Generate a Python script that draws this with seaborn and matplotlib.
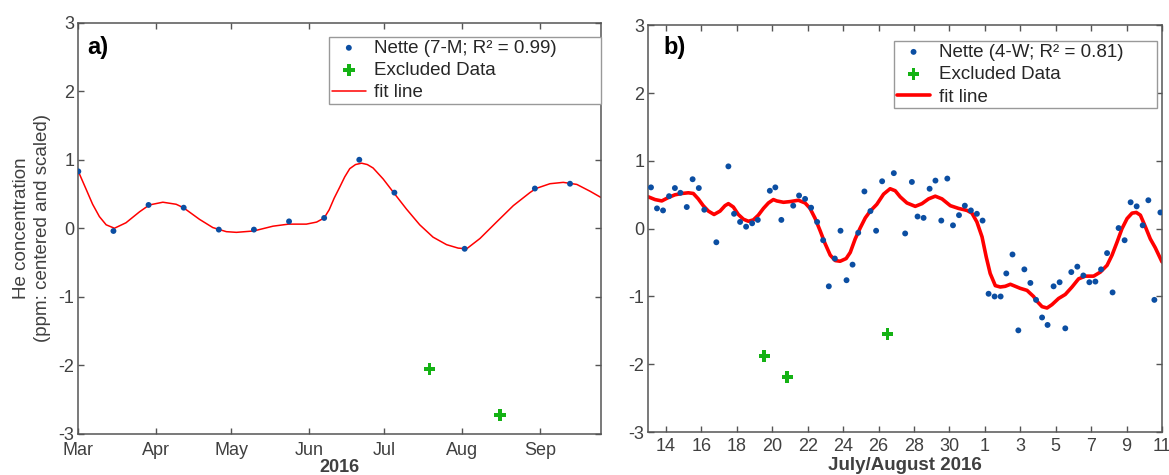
import pandas as pd
import matplotlib
matplotlib.use('Agg')
import matplotlib.pyplot as plt
import seaborn as sns

# ---- panel a) : 7-month record, days counted from 1 March 2016 ----
a_days = [0, 14, 28, 42, 56, 70, 84, 98, 112, 126, 154, 182, 196]
a_vals = [0.83, -0.04, 0.34, 0.30, -0.02, -0.02, 0.10, 0.15, 1.00, 0.52, -0.30, 0.58, 0.65]
a_excl_days = [140, 168]
a_excl_vals = [-2.06, -2.73]
a_fit_days = [0, 3.1, 5.7, 8.4, 11.1, 14.4, 19.0, 24.4, 28.3, 33.7, 39.0, 41.9, 48.3, 53.6,
              59.0, 63.0, 69.9, 77.6, 83.8, 90.9, 95.0, 98.0, 100.0, 102.0, 104.2, 106.2,
              108.2, 110.5, 112.9, 115.2, 117.5, 121.5, 125.7, 130.8, 136.1, 141.4, 146.8,
              151.4, 154.8, 160.1, 166.7, 173.4, 180.0, 182.4, 188.0, 193.3, 198.7, 204.0, 208.3]
a_fit_vals = [0.83, 0.57, 0.35, 0.17, 0.05, 0.00, 0.08, 0.24, 0.34, 0.38, 0.35, 0.30, 0.13, 0.01,
              -0.05, -0.06, -0.04, 0.03, 0.06, 0.06, 0.09, 0.15, 0.27, 0.44, 0.60, 0.75,
              0.87, 0.93, 0.95, 0.93, 0.88, 0.72, 0.52, 0.28, 0.05, -0.13, -0.24,
              -0.29, -0.30, -0.15, 0.09, 0.33, 0.52, 0.58, 0.65, 0.67, 0.64, 0.54, 0.45]
a_ticks = ['2016-03-01', '2016-04-01', '2016-05-01', '2016-06-01', '2016-07-01', '2016-08-01', '2016-09-01']
a_tick_labels = ['Mar', 'Apr', 'May', 'Jun', 'Jul', 'Aug', 'Sep']

# ---- panel b) : 4-week record, day of July (32 = 1 August) ----
b_days = [13.15, 13.49, 13.83, 14.17, 14.50, 14.81, 15.17, 15.50, 15.85, 16.16,
          16.84, 17.52, 17.84, 18.18, 18.52, 18.86, 19.18, 19.86, 20.17, 20.51,
          21.18, 21.51, 21.85, 22.19, 22.53, 22.87, 23.19, 23.53, 23.85, 24.19,
          24.53, 24.85, 25.20, 25.54, 25.86, 26.20, 26.86, 27.50, 27.88, 28.20,
          28.54, 28.88, 29.21, 29.54, 29.88, 30.20, 30.54, 30.87, 31.21, 31.55,
          31.87, 32.21, 32.55, 32.89, 33.21, 33.56, 33.89, 34.23, 34.57, 34.89,
          35.23, 35.54, 35.88, 36.22, 36.54, 36.88, 37.22, 37.56, 37.90, 38.24,
          38.56, 38.90, 39.21, 39.55, 39.89, 40.23, 40.57, 40.91, 41.23, 41.57, 41.91]
b_vals = [0.61, 0.30, 0.27, 0.48, 0.60, 0.53, 0.32, 0.73, 0.60, 0.28,
          -0.20, 0.92, 0.22, 0.10, 0.03, 0.08, 0.13, 0.56, 0.61, 0.13,
          0.34, 0.49, 0.44, 0.31, 0.10, -0.17, -0.85, -0.44, -0.03, -0.76,
          -0.53, -0.06, 0.55, 0.26, -0.03, 0.70, 0.82, -0.07, 0.69, 0.18,
          0.16, 0.59, 0.71, 0.12, 0.74, 0.05, 0.20, 0.34, 0.27, 0.22,
          0.12, -0.96, -1.00, -1.00, -0.66, -0.38, -1.50, -0.60, -0.80, -1.05,
          -1.31, -1.42, -0.85, -0.79, -1.47, -0.64, -0.56, -0.69, -0.79, -0.78,
          -0.60, -0.36, -0.94, 0.01, -0.17, 0.39, 0.33, 0.05, 0.42, -1.05, 0.24]
b_excl_days = [19.55, 20.85, 26.50]
b_excl_vals = [-1.88, -2.19, -1.55]
b_fit_days = [13.0, 13.38, 13.76, 14.13, 14.5, 14.89, 15.26, 15.54, 15.82, 16.1, 16.39, 16.71,
              17.05, 17.33, 17.52, 17.8, 18.08, 18.37, 18.65, 18.93, 19.21, 19.5, 19.78, 20.06,
              20.25, 20.63, 21.0, 21.47, 21.85, 22.13, 22.42, 22.7, 22.98, 23.27, 23.55, 23.83,
              24.17, 24.4, 24.68, 24.96, 25.25, 25.53, 25.9, 26.28, 26.65, 26.94, 27.22, 27.6,
              28.07, 28.45, 28.82, 29.2, 29.58, 30.05, 30.51, 30.99, 31.27, 31.55, 31.84, 32.08,
              32.3, 32.59, 32.87, 33.15, 33.44, 33.72, 34.0, 34.38, 34.75, 34.94, 35.23, 35.51,
              35.79, 36.16, 36.54, 36.92, 37.29, 37.67, 38.14, 38.52, 38.9, 39.18, 39.46, 39.74,
              40.03, 40.31, 40.55, 40.78, 41.06, 41.34, 41.62, 42.0]
b_fit_vals = [0.47, 0.43, 0.41, 0.46, 0.50, 0.52, 0.53, 0.52, 0.44, 0.34, 0.26, 0.21,
              0.26, 0.34, 0.37, 0.32, 0.21, 0.14, 0.11, 0.13, 0.20, 0.30, 0.38, 0.43,
              0.41, 0.39, 0.40, 0.42, 0.38, 0.30, 0.15, -0.03, -0.22, -0.39, -0.47, -0.48,
              -0.44, -0.35, -0.15, 0.01, 0.16, 0.26, 0.36, 0.51, 0.59, 0.56, 0.47, 0.38,
              0.33, 0.37, 0.44, 0.48, 0.44, 0.34, 0.30, 0.27, 0.23, 0.10, -0.12, -0.42,
              -0.66, -0.84, -0.86, -0.85, -0.82, -0.85, -0.88, -0.91, -1.00, -1.07, -1.15, -1.17,
              -1.12, -1.03, -0.97, -0.86, -0.74, -0.70, -0.70, -0.64, -0.54, -0.39, -0.20, 0.00,
              0.15, 0.23, 0.24, 0.20, 0.03, -0.15, -0.28, -0.49]
b_ticks = ['2016-07-14', '2016-07-16', '2016-07-18', '2016-07-20', '2016-07-22', '2016-07-24',
           '2016-07-26', '2016-07-28', '2016-07-30', '2016-08-01', '2016-08-03', '2016-08-05',
           '2016-08-07', '2016-08-09', '2016-08-11']
b_tick_labels = ['14', '16', '18', '20', '22', '24', '26', '28', '30', '1', '3', '5', '7', '9', '11']

y_ticks = [-3, -2, -1, 0, 1, 2, 3]

start_a = pd.Timestamp('2016-03-01')
start_b = pd.Timestamp('2016-07-01')


def from_march(days):
    return start_a + pd.to_timedelta(days, unit='D')


def from_july(days):
    # day-of-July numbers: 13.0 = 13 July 00:00
    return start_b + pd.to_timedelta([d - 1 for d in days], unit='D')


sns.set_theme(style='white')
grey = '#404040'
plt.rcParams.update({
    'font.family': ['Liberation Sans', 'DejaVu Sans'],
    'font.size': 13,
    'axes.unicode_minus': False,
    'xtick.direction': 'in', 'ytick.direction': 'in',
    'xtick.top': True, 'ytick.right': True,
    'xtick.bottom': True, 'ytick.left': True,
    'xtick.major.size': 4, 'ytick.major.size': 4,
    'xtick.major.width': 1.0, 'ytick.major.width': 1.0,
    'xtick.color': '#555555', 'ytick.color': '#555555',
    'xtick.labelcolor': grey, 'ytick.labelcolor': grey,
    'xtick.labelsize': 13, 'ytick.labelsize': 13,
    'xtick.major.pad': 4, 'ytick.major.pad': 3,
    'axes.edgecolor': '#555555', 'axes.linewidth': 1.1,
    'axes.labelcolor': grey,
})

blue = '#0b4ea2'
green = '#14b214'
leg_style = dict(loc='upper left', mode='expand', borderaxespad=0, fontsize=13.5,
                 frameon=True, fancybox=False, edgecolor='#999999', framealpha=1,
                 handlelength=1.8, handletextpad=0.45, labelspacing=0.28, borderpad=0.15)

fig = plt.figure(figsize=(11.69, 4.75), dpi=100)
ax_a = fig.add_axes([0.067, 0.087, 0.447, 0.865])
ax_b = fig.add_axes([0.5546, 0.0905, 0.4394, 0.856])

# a) monthly data
sns.scatterplot(x=from_march(a_days), y=a_vals, ax=ax_a, color=blue, s=18, edgecolor='none',
                label='Nette (7-M; R\u00b2 = 0.99)', zorder=3)
sns.scatterplot(x=from_march(a_excl_days), y=a_excl_vals, ax=ax_a, color=green, marker='P', s=70,
                edgecolor='none', label='Excluded Data', zorder=3)
sns.lineplot(x=from_march(a_fit_days), y=a_fit_vals, ax=ax_a, color='red', lw=1.1,
             label='fit line', zorder=2)
ax_a.set_xlim(start_a, from_march([208.3])[0])
ax_a.set_ylim(-3, 3)
ax_a.set_xticks(pd.to_datetime(a_ticks))
ax_a.set_xticklabels(a_tick_labels)
ax_a.tick_params(axis='x', pad=6)
ax_a.set_yticks(y_ticks)
ax_a.set_xlabel('2016', fontweight='bold', fontsize=13, labelpad=0)
ax_a.set_ylabel('He concentration\n(ppm: centered and scaled)', fontsize=13.5, labelpad=5,
                linespacing=1.3)
ax_a.text(0.018, 0.968, 'a)', transform=ax_a.transAxes, fontsize=17, fontweight='bold',
          va='top', ha='left', color='black')
ax_a.legend(bbox_to_anchor=(0.480, 0.0, 0.520, 0.966), **leg_style)

# b) weekly data
sns.scatterplot(x=from_july(b_days), y=b_vals, ax=ax_b, color=blue, s=18, edgecolor='none',
                label='Nette (4-W; R\u00b2 = 0.81)', zorder=3)
sns.scatterplot(x=from_july(b_excl_days), y=b_excl_vals, ax=ax_b, color=green, marker='P', s=70,
                edgecolor='none', label='Excluded Data', zorder=3)
sns.lineplot(x=from_july(b_fit_days), y=b_fit_vals, ax=ax_b, color='red', lw=2.6,
             label='fit line', zorder=2)
ax_b.set_xlim(from_july([13.0])[0], from_july([42.0])[0])
ax_b.set_ylim(-3, 3)
ax_b.set_xticks(pd.to_datetime(b_ticks))
ax_b.set_xticklabels(b_tick_labels)
ax_b.set_yticks(y_ticks)
ax_b.set_xlabel('July/August 2016', fontweight='bold', fontsize=13.5, labelpad=2)
ax_b.set_ylabel('')
ax_b.text(0.03, 0.975, 'b)', transform=ax_b.transAxes, fontsize=17, fontweight='bold',
          va='top', ha='left', color='black')
ax_b.legend(bbox_to_anchor=(0.478, 0.0, 0.512, 0.962), **leg_style)

for ax in (ax_a, ax_b):
    ax.get_legend().get_frame().set_linewidth(1.0)
    for sp in ax.spines.values():
        sp.set_visible(True)

plt.savefig('out.png', dpi=100)
